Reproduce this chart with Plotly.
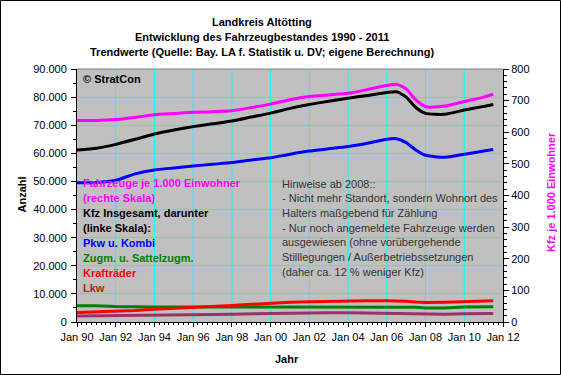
import plotly.graph_objects as go

dates = ["1990-01-01", "1991-01-01", "1992-01-01", "1993-01-01", "1994-01-01",
         "1995-01-01", "1996-01-01", "1997-01-01", "1998-01-01", "1999-01-01",
         "2000-01-01", "2001-01-01", "2002-01-01", "2003-01-01", "2004-01-01",
         "2005-01-01", "2006-01-01", "2006-07-01", "2007-01-01", "2007-07-01",
         "2008-01-01", "2009-01-01", "2010-01-01", "2011-01-01", "2011-07-01"]

kfz_je_1000 = [637, 637, 640, 647, 655, 659, 663, 665, 668, 678, 689, 703, 713, 718,
               723, 735, 748, 752, 737, 702, 681, 683, 697, 711, 720]
kfz_gesamt = [61200, 61800, 63200, 65000, 66900, 68300, 69500, 70500, 71500, 72900,
              74300, 76000, 77400, 78500, 79600, 80600, 81600, 81900, 80000, 76300,
              74200, 73900, 75400, 76700, 77400]
pkw = [49500, 49600, 50400, 52700, 54100, 54800, 55500, 56100, 56700, 57600, 58400,
       59700, 60800, 61600, 62400, 63600, 65000, 65200, 63800, 61200, 59300, 58600,
       59700, 60800, 61400]
zugm = [5800, 5800, 5500, 5350, 5350, 5350, 5350, 5350, 5350, 5350, 5350, 5350, 5350,
        5350, 5350, 5350, 5350, 5350, 5350, 5250, 5000, 5000, 5300, 5450, 5450]
kraftraeder = [3400, 3600, 3800, 4100, 4500, 4800, 5100, 5500, 5900, 6300, 6700, 7000,
               7200, 7400, 7600, 7600, 7600, 7600, 7400, 7100, 6950, 7050, 7200, 7500, 7600]
lkw = [2100, 2150, 2200, 2250, 2350, 2500, 2600, 2700, 2800, 2950, 3000, 3100, 3200,
       3300, 3250, 3100, 3000, 2950, 2950, 2850, 2650, 2750, 2950, 3000, 3000]

grid_years = list(range(1992, 2012, 2))

legend_lines = [
    ("Fahrzeuge je 1.000 Einwohner", "#FF00FF"),
    ("(rechte Skala)", "#FF00FF"),
    ("Kfz Insgesamt, darunter", "#000000"),
    ("(linke Skala):", "#000000"),
    ("Pkw u. Kombi", "#0000FF"),
    ("Zugm. u. Sattelzugm.", "#008000"),
    ("Krafträder", "#FF0000"),
    ("Lkw", "#993300"),
]
note_lines = [
    "Hinweise ab 2008::",
    "- Nicht mehr Standort, sondern Wohnort des",
    "Halters maßgebend für Zählung",
    "- Nur noch angemeldete Fahrzeuge werden",
    "ausgewiesen (ohne vorübergehende",
    "Stilllegungen / Außerbetriebssetzungen",
    "(daher ca. 12 % weniger Kfz)",
]
title_lines = [
    "Landkreis Altötting",
    "Entwicklung des Fahrzeugbestandes 1990 - 2011",
    "Trendwerte (Quelle: Bay. LA f. Statistik u. DV; eigene Berechnung)",
]

W, H = 561, 375
L, R, T, B = 77, 58, 69, 53
PW, PH = W - L - R, H - T - B


def px(x):
    return (x - L) / PW


def py(y):
    return (H - B - y) / PH


FONT = "Liberation Sans, Arial, sans-serif"

fig = go.Figure()
fig.add_trace(go.Scatter(x=dates, y=lkw, mode="lines", line=dict(color="#993366", width=3)))
fig.add_trace(go.Scatter(x=dates, y=zugm, mode="lines", line=dict(color="#008000", width=3)))
fig.add_trace(go.Scatter(x=dates, y=kraftraeder, mode="lines", line=dict(color="#FF0000", width=3)))
fig.add_trace(go.Scatter(x=dates, y=pkw, mode="lines",
                         line=dict(color="#0000FF", width=3, shape="spline", smoothing=0.6)))
fig.add_trace(go.Scatter(x=dates, y=kfz_gesamt, mode="lines",
                         line=dict(color="#000000", width=3, shape="spline", smoothing=0.6)))
fig.add_trace(go.Scatter(x=dates, y=kfz_je_1000, mode="lines", yaxis="y2",
                         line=dict(color="#FF00FF", width=3, shape="spline", smoothing=0.6)))

ann = []
for i, t in enumerate(title_lines):
    ann.append(dict(text="<b>%s</b>" % t, x=px(262), y=py(22 + 15 * i), xref="paper", yref="paper",
                    xanchor="center", yanchor="middle", showarrow=False,
                    font=dict(family=FONT, size=11, color="#000000")))
for i, (t, c) in enumerate(legend_lines):
    ann.append(dict(text="<b>%s</b>" % t, x=px(81), y=py(183 + 15 * i), xref="paper", yref="paper",
                    xanchor="left", yanchor="middle", showarrow=False,
                    font=dict(family=FONT, size=11, color=c)))
for i, t in enumerate(note_lines):
    ann.append(dict(text=t, x=px(280), y=py(183.5 + 14.7 * i), xref="paper", yref="paper",
                    xanchor="left", yanchor="middle", showarrow=False,
                    font=dict(family=FONT, size=11, color="#333333")))
ann.append(dict(text="<b>© StratCon</b>", x=px(81), y=py(79), xref="paper", yref="paper",
                xanchor="left", yanchor="middle", showarrow=False,
                font=dict(family=FONT, size=11, color="#000000")))
ann.append(dict(text="<b>Anzahl</b>", x=px(21.5), y=py(195), xref="paper", yref="paper",
                xanchor="center", yanchor="middle", showarrow=False, textangle=-90,
                font=dict(family=FONT, size=11, color="#000000")))
ann.append(dict(text="<b>Jahr</b>", x=px(287), y=py(359), xref="paper", yref="paper",
                xanchor="center", yanchor="middle", showarrow=False,
                font=dict(family=FONT, size=11, color="#000000")))
ann.append(dict(text="<b>Kfz je 1.000 Einwohner</b>", x=px(551), y=py(192), xref="paper", yref="paper",
                xanchor="center", yanchor="middle", showarrow=False, textangle=-90,
                font=dict(family=FONT, size=11, color="#FF00FF")))

shapes = [
    dict(type="line", xref="x", yref="paper", x0="%d-01-01" % yr, x1="%d-01-01" % yr, y0=0, y1=1,
         layer="below", line=dict(color="#00FFFF", width=1))
    for yr in grid_years
]
shapes += [
    dict(type="line", xref="paper", yref="paper", x0=0, x1=1, y0=1, y1=1,
         line=dict(color="#808080", width=1)),
    dict(type="rect", xref="paper", yref="paper", x0=px(0.5), x1=px(W - 0.5), y0=py(H - 0.5), y1=py(0.5),
         line=dict(color="#000000", width=1), fillcolor="rgba(0,0,0,0)"),
]

fig.update_layout(
    width=W, height=H,
    margin=dict(l=L, r=R, t=T, b=B, pad=0),
    paper_bgcolor="#FFFFFF", plot_bgcolor="#C0C0C0",
    showlegend=False, separators=",.",
    font=dict(family=FONT, size=11, color="#000000"),
    annotations=ann, shapes=shapes,
    xaxis=dict(type="date", range=["1990-01-01", "2012-01-01"], dtick="M24", tick0="1990-01-01",
               tickformat="%b %y", showgrid=False,
               showline=True, linecolor="#000000", linewidth=1, ticks="outside", ticklen=4,
               tickcolor="#000000", zeroline=False, ticklabelstandoff=1,
               minor=dict(dtick="M3", ticks="outside", ticklen=2, tickcolor="#000000", showgrid=False),
               tickfont=dict(family=FONT, size=11, color="#000000")),
    yaxis=dict(range=[0, 90000], dtick=10000, tickformat=",d", showgrid=True, gridcolor="#00FFFF",
               gridwidth=1, showline=True, linecolor="#000000", linewidth=1, ticks="outside",
               ticklen=5, tickcolor="#000000", zeroline=False, ticklabelstandoff=2,
               minor=dict(dtick=5000, ticks="outside", ticklen=3, tickcolor="#000000", showgrid=False),
               tickfont=dict(family=FONT, size=11, color="#000000")),
    yaxis2=dict(range=[0, 800], dtick=100, overlaying="y", side="right", showgrid=False,
                showline=True, linecolor="#000000", linewidth=1, ticks="outside", ticklen=5,
                tickcolor="#000000", zeroline=False,
                minor=dict(dtick=20, ticks="outside", ticklen=3, tickcolor="#000000", showgrid=False),
                tickfont=dict(family=FONT, size=11, color="#000000")),
)

fig.write_html("out.html", config={"displayModeBar": False},
               post_script="document.body.style.margin='0';document.body.style.overflow='hidden';")
